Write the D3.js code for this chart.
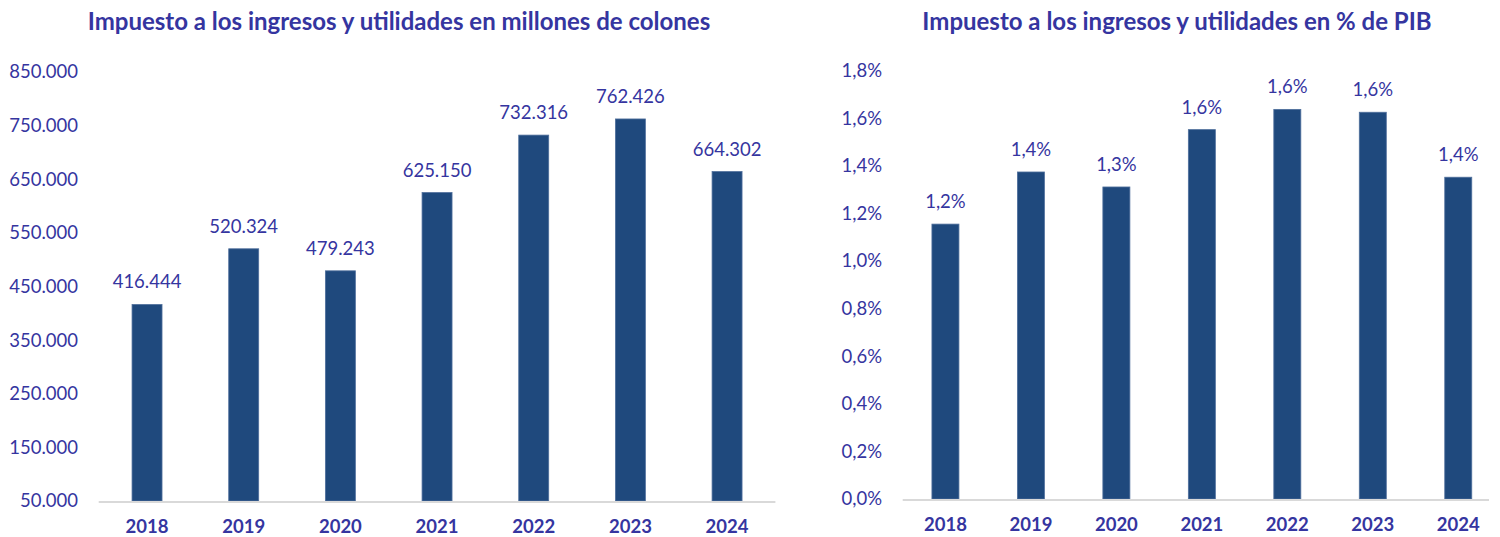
<!DOCTYPE html>
<html>
<head>
<meta charset="utf-8">
<script src="https://cdn.jsdelivr.net/npm/d3@7"></script>
<style>
  body { margin: 0; background: #fff; }
  svg { display: block; font-family: Lato, "Open Sans", sans-serif; }
</style>
</head>
<body>
<svg id="chart" width="1500" height="537"></svg>
<script>
// data
var years = ["2018", "2019", "2020", "2021", "2022", "2023", "2024"];
var millones = [416444, 520324, 479243, 625150, 732316, 762426, 664302];
var pctPib = [1.155, 1.374, 1.311, 1.552, 1.637, 1.625, 1.352];
var ticksMillones = [50000, 150000, 250000, 350000, 450000, 550000, 650000, 750000, 850000];
var ticksPct = [0, 0.2, 0.4, 0.6, 0.8, 1.0, 1.2, 1.4, 1.6, 1.8];
var titleLeft = "Impuesto a los ingresos y utilidades en millones de colones";
var titleRight = "Impuesto a los ingresos y utilidades en % de PIB";

var textColor = "#3535a0";
var barColor = "#1f497d";

var svg = d3.select("#chart");

// number formats in spanish style
var fmtMill = function (v) { return d3.format(",.0f")(v).replace(/,/g, "."); };
var fmtPct = function (v) { return d3.format(".1f")(v).replace(".", ",") + "%"; };

function drawPanel(opt) {
  var g = svg.append("g");

  var x = d3.scaleBand()
    .domain(years)
    .range([opt.x0, opt.x1])
    .paddingInner(opt.pad)
    .paddingOuter(opt.pad / 2);

  var y = d3.scaleLinear()
    .domain(opt.domain)
    .range([opt.yBase, opt.yTop]);

  // title
  g.append("text")
    .attr("x", opt.titleX)
    .attr("y", 30)
    .attr("text-anchor", "middle")
    .style("font-size", "24px")
    .style("font-weight", "bold")
    .style("fill", textColor)
    .text(opt.title);

  // y axis (labels only)
  var yAxis = g.append("g")
    .attr("transform", "translate(" + opt.labelX + ",0)")
    .call(d3.axisLeft(y).tickValues(opt.ticks).tickFormat(opt.fmtTick).tickSize(0).tickPadding(0));
  yAxis.select(".domain").remove();
  yAxis.selectAll("text")
    .style("font-family", "Lato, 'Open Sans', sans-serif")
    .style("font-size", "18.5px")
    .style("fill", textColor);

  // bars
  g.selectAll("rect.bar")
    .data(opt.values)
    .enter()
    .append("rect")
    .attr("class", "bar")
    .attr("x", function (d, i) { return x(years[i]); })
    .attr("width", x.bandwidth())
    .attr("y", function (d) { return y(d); })
    .attr("height", function (d) { return opt.yBase - y(d); })
    .attr("fill", barColor)
    .attr("stroke", "#4f6f9c")
    .attr("stroke-width", 0.8);

  // baseline
  g.append("line")
    .attr("x1", opt.x0)
    .attr("x2", opt.x1 - opt.trim)
    .attr("y1", opt.yBase + 1)
    .attr("y2", opt.yBase + 1)
    .attr("stroke", "#d9d9d9")
    .attr("stroke-width", 2);

  // value labels
  g.selectAll("text.val")
    .data(opt.values)
    .enter()
    .append("text")
    .attr("class", "val")
    .attr("x", function (d, i) { return x(years[i]) + x.bandwidth() / 2; })
    .attr("y", function (d) { return y(d) - 16; })
    .attr("text-anchor", "middle")
    .style("font-size", "18.5px")
    .style("fill", textColor)
    .text(opt.fmtVal);

  // x axis (category labels)
  var xAxis = g.append("g")
    .attr("transform", "translate(0," + opt.yBase + ")")
    .call(d3.axisBottom(x).tickSize(0).tickPadding(0));
  xAxis.select(".domain").remove();
  xAxis.selectAll("text")
    .attr("dy", null)
    .attr("y", 32)
    .style("font-family", "Lato, 'Open Sans', sans-serif")
    .style("font-size", "18.5px")
    .style("font-weight", "bold")
    .style("fill", textColor);
}

drawPanel({
  title: titleLeft, titleX: 399,
  x0: 98.7, x1: 775.4, pad: 0.69, trim: 0,
  domain: [50000, 850000], yBase: 501, yTop: 72,
  ticks: ticksMillones, labelX: 78,
  values: millones,
  fmtTick: fmtMill, fmtVal: fmtMill
});

drawPanel({
  title: titleRight, titleX: 1177,
  x0: 902.7, x1: 1501, pad: 0.684, trim: 12,
  domain: [0, 1.8], yBase: 499, yTop: 70.6,
  ticks: ticksPct, labelX: 882,
  values: pctPib,
  fmtTick: fmtPct, fmtVal: fmtPct
});
</script>
</body>
</html>
